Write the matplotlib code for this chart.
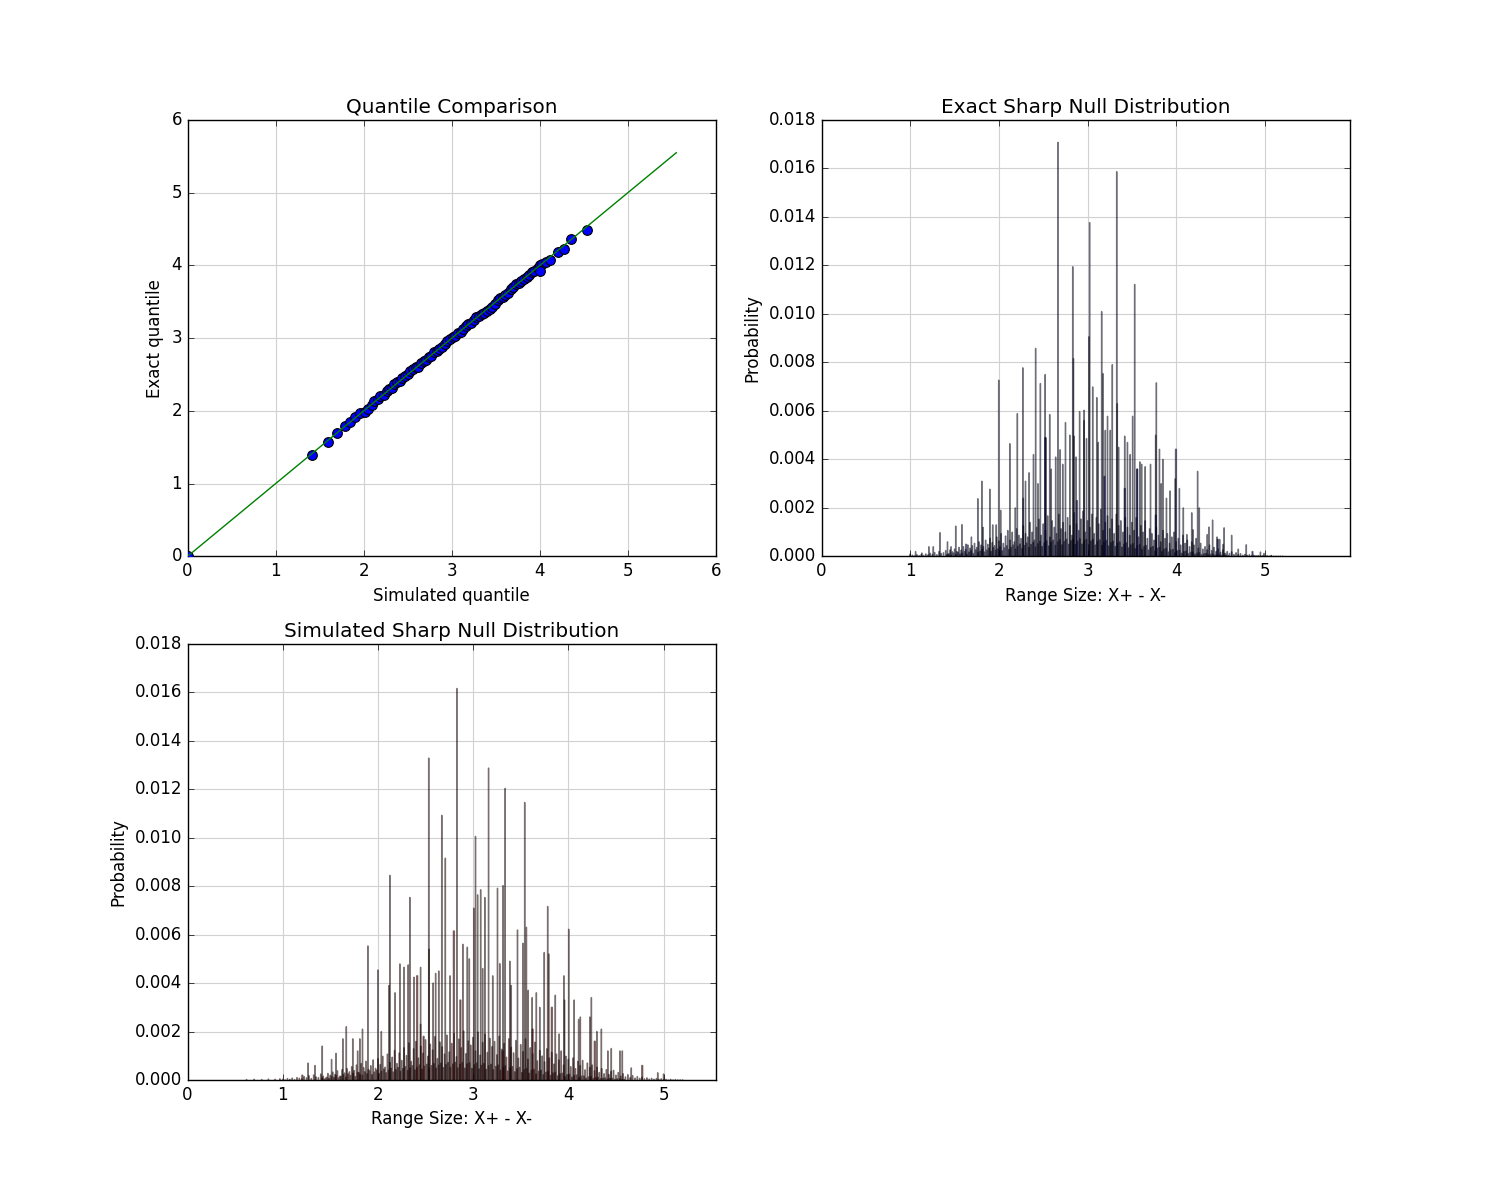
import numpy as np
import matplotlib
matplotlib.use("Agg")
import matplotlib.pyplot as plt

plt.style.use("classic")

# ---------------- data ----------------
# Quantile comparison (simulated vs exact quantiles)
sim_quantiles = [0.00, 1.41, 1.59, 1.70, 1.79, 1.84, 1.90, 1.96, 2.01, 2.05,
                 2.09, 2.12, 2.16, 2.19, 2.23, 2.26, 2.29, 2.32, 2.35, 2.38,
                 2.41, 2.44, 2.47, 2.50, 2.53, 2.56, 2.59, 2.62, 2.65, 2.68,
                 2.71, 2.74, 2.77, 2.80, 2.83, 2.86, 2.89, 2.92, 2.95, 2.98,
                 3.01, 3.04, 3.07, 3.10, 3.13, 3.16, 3.19, 3.22, 3.25, 3.28,
                 3.31, 3.34, 3.37, 3.40, 3.43, 3.46, 3.49, 3.52, 3.55, 3.58,
                 3.61, 3.64, 3.67, 3.70, 3.73, 3.76, 3.79, 3.82, 3.85, 3.88,
                 3.91, 3.94, 3.98, 4.00, 4.03, 4.07, 4.12, 4.21, 4.27, 4.35,
                 4.54, 4.00]
exact_quantiles = [0.00, 1.40, 1.57, 1.70, 1.79, 1.85, 1.91, 1.97, 1.98, 2.03,
                   2.08, 2.13, 2.16, 2.20, 2.22, 2.27, 2.30, 2.31, 2.37, 2.40,
                   2.41, 2.45, 2.48, 2.51, 2.55, 2.57, 2.60, 2.61, 2.66, 2.68,
                   2.70, 2.74, 2.76, 2.81, 2.83, 2.85, 2.88, 2.92, 2.96, 2.99,
                   3.01, 3.03, 3.07, 3.09, 3.12, 3.17, 3.19, 3.21, 3.25, 3.29,
                   3.31, 3.33, 3.35, 3.38, 3.40, 3.43, 3.47, 3.53, 3.55, 3.57,
                   3.59, 3.62, 3.67, 3.70, 3.74, 3.76, 3.78, 3.81, 3.84, 3.87,
                   3.91, 3.93, 3.96, 4.00, 4.02, 4.05, 4.08, 4.18, 4.23, 4.36,
                   4.49, 3.92]
sim_max = 5.55     # largest simulated range size
exact_max = 5.96   # largest exact range size

# Exact sharp-null distribution: prominent spikes
exact_spike_x = [2.666, 3.329, 3.023, 2.833, 3.531, 3.159, 3.015, 2.414, 2.841, 3.776,
                 3.279, 2.270, 3.174, 2.522, 1.998, 2.468, 3.104, 3.058, 3.335, 3.225,
                 2.910, 2.961, 2.208, 2.573, 2.751, 3.508, 3.256, 2.530, 2.848, 2.988,
                 2.123, 3.419, 3.768, 3.811, 3.850, 2.390, 2.340, 4.241, 1.808, 1.762,
                 1.898, 1.335, 1.513, 1.583, 4.369, 4.540, 4.625, 4.790, 4.950, 4.260,
                 4.175, 4.410, 4.036, 3.930, 3.890, 3.590, 3.560, 3.480, 3.350, 2.870,
                 2.720, 2.640, 2.590, 2.440, 2.300, 2.275, 2.185, 2.020, 1.970, 1.930,
                 1.820, 1.690, 1.460, 1.420, 1.210, 1.260, 1.060, 1.000, 1.130, 4.990,
                 5.070, 4.700, 4.530, 4.490, 4.460, 4.350, 4.190, 4.120, 4.080, 3.990,
                 3.710, 3.650, 3.610, 3.830, 2.960, 3.120, 3.200, 2.690, 2.800, 3.450]
exact_spike_h = [0.01708, 0.01587, 0.01377, 0.01195, 0.01122, 0.01010, 0.00906, 0.00858, 0.00816, 0.00716,
                 0.00791, 0.00778, 0.00754, 0.00750, 0.00727, 0.00713, 0.00655, 0.00699, 0.00630, 0.00578,
                 0.00597, 0.00603, 0.00589, 0.00585, 0.00552, 0.00578, 0.00520, 0.00489, 0.00496, 0.00486,
                 0.00465, 0.00496, 0.00500, 0.00442, 0.00400, 0.00420, 0.00345, 0.00351, 0.00310, 0.00238,
                 0.00277, 0.00098, 0.00125, 0.00131, 0.00121, 0.00118, 0.00087, 0.00048, 0.00018, 0.00200,
                 0.00180, 0.00150, 0.00280, 0.00270, 0.00240, 0.00390, 0.00360, 0.00420, 0.00450, 0.00410,
                 0.00380, 0.00410, 0.00360, 0.00300, 0.00310, 0.00240, 0.00200, 0.00190, 0.00130, 0.00130,
                 0.00120, 0.00080, 0.00040, 0.00060, 0.00040, 0.00040, 0.00020, 0.00010, 0.00014, 0.00012,
                 0.00004, 0.00030, 0.00050, 0.00070, 0.00080, 0.00090, 0.00110, 0.00090, 0.00200, 0.00320,
                 0.00380, 0.00370, 0.00380, 0.00300, 0.00560, 0.00470, 0.00520, 0.00440, 0.00500, 0.00470]
# Exact: wider bars whose face colour shows
exact_wide_x = [2.522, 3.190, 3.997, 3.560, 1.630, 4.860, 3.770, 4.470, 2.880, 3.420]
exact_wide_h = [0.00490, 0.00330, 0.00442, 0.00360, 0.00050, 0.00020, 0.00170, 0.00070, 0.00230, 0.00280]
# Exact: low bars, centres 1.000, 1.025, ... 5.200
exact_base_h = [0.00002, 0.00005, 0.00002, 0.00007, 0.00003, 0.00008, 0.00004, 0.00010, 0.00006, 0.00013,
                0.00008, 0.00016, 0.00007, 0.00020, 0.00012, 0.00015, 0.00024, 0.00010, 0.00027, 0.00019,
                0.00030, 0.00020, 0.00037, 0.00026, 0.00040, 0.00028, 0.00047, 0.00034, 0.00044, 0.00054,
                0.00037, 0.00060, 0.00047, 0.00040, 0.00067, 0.00050, 0.00074, 0.00057, 0.00044, 0.00080,
                0.00064, 0.00094, 0.00054, 0.00084, 0.00107, 0.00067, 0.00100, 0.00060, 0.00114, 0.00087,
                0.00074, 0.00127, 0.00094, 0.00080, 0.00140, 0.00100, 0.00067, 0.00120, 0.00154, 0.00087,
                0.00134, 0.00107, 0.00167, 0.00080, 0.00147, 0.00120, 0.00094, 0.00174, 0.00114, 0.00140,
                0.00100, 0.00160, 0.00127, 0.00087, 0.00180, 0.00134, 0.00107, 0.00154, 0.00187, 0.00100,
                0.00147, 0.00120, 0.00174, 0.00094, 0.00160, 0.00134, 0.00194, 0.00107, 0.00140, 0.00167,
                0.00114, 0.00154, 0.00094, 0.00174, 0.00127, 0.00147, 0.00100, 0.00160, 0.00120, 0.00087,
                0.00140, 0.00107, 0.00160, 0.00080, 0.00127, 0.00100, 0.00147, 0.00074, 0.00114, 0.00094,
                0.00067, 0.00120, 0.00087, 0.00060, 0.00107, 0.00074, 0.00094, 0.00054, 0.00080, 0.00100,
                0.00060, 0.00074, 0.00047, 0.00087, 0.00054, 0.00067, 0.00040, 0.00060, 0.00047, 0.00074,
                0.00034, 0.00054, 0.00030, 0.00040, 0.00027, 0.00047, 0.00024, 0.00037, 0.00020, 0.00030,
                0.00017, 0.00027, 0.00013, 0.00020, 0.00012, 0.00019, 0.00008, 0.00015, 0.00007, 0.00011,
                0.00005, 0.00008, 0.00004, 0.00007, 0.00003, 0.00005, 0.00003, 0.00004, 0.00002, 0.00003,
                0.00001, 0.00003, 0.00001, 0.00002, 0.00001, 0.00001, 0.00001, 0.00001, 0.00001]
# Exact: dense floor bars, centres 1.4125, 1.4375, ... 4.5875
exact_low_h = [0.00006, 0.00011, 0.00004, 0.00014, 0.00008, 0.00017, 0.00010, 0.00013, 0.00020, 0.00009,
               0.00018, 0.00024, 0.00012, 0.00027, 0.00016, 0.00022, 0.00030, 0.00018, 0.00026, 0.00033,
               0.00021, 0.00036, 0.00025, 0.00031, 0.00040, 0.00023, 0.00035, 0.00044, 0.00028, 0.00038,
               0.00047, 0.00030, 0.00042, 0.00051, 0.00033, 0.00045, 0.00055, 0.00036, 0.00049, 0.00058,
               0.00039, 0.00052, 0.00062, 0.00041, 0.00056, 0.00064, 0.00043, 0.00058, 0.00067, 0.00046,
               0.00060, 0.00069, 0.00048, 0.00062, 0.00071, 0.00050, 0.00065, 0.00072, 0.00049, 0.00063,
               0.00073, 0.00051, 0.00066, 0.00070, 0.00048, 0.00064, 0.00071, 0.00047, 0.00062, 0.00068,
               0.00045, 0.00060, 0.00066, 0.00043, 0.00057, 0.00063, 0.00041, 0.00054, 0.00060, 0.00038,
               0.00051, 0.00056, 0.00035, 0.00048, 0.00053, 0.00032, 0.00044, 0.00049, 0.00029, 0.00041,
               0.00045, 0.00026, 0.00037, 0.00041, 0.00023, 0.00033, 0.00037, 0.00020, 0.00030, 0.00033,
               0.00018, 0.00027, 0.00029, 0.00015, 0.00023, 0.00025, 0.00013, 0.00020, 0.00022, 0.00011,
               0.00017, 0.00018, 0.00009, 0.00014, 0.00015, 0.00007, 0.00011, 0.00012, 0.00006, 0.00009,
               0.00010, 0.00005, 0.00007, 0.00008, 0.00004, 0.00006, 0.00006, 0.00003]

# Simulated sharp-null distribution: prominent spikes
sim_spike_x = [2.830, 2.534, 3.162, 3.336, 3.542, 2.671, 3.025, 2.708, 2.126, 3.314,
               3.256, 3.079, 3.047, 3.123, 2.336, 3.783, 3.007, 3.466, 3.560, 4.004,
               1.895, 2.892, 2.939, 3.523, 3.747, 3.794, 2.000, 2.231, 2.274, 2.318,
               2.448, 2.379, 2.606, 2.639, 2.758, 3.206, 3.386, 3.578, 3.664, 3.863,
               3.960, 4.061, 4.242, 4.347, 4.126, 4.227, 3.903, 4.415, 4.451, 4.542,
               4.567, 4.661, 4.939, 5.000, 2.036, 1.838, 1.668, 1.632, 1.736, 1.787,
               1.810, 1.415, 1.267, 1.339, 1.513, 2.116, 2.538, 2.448, 3.953, 4.108,
               2.960, 3.100, 3.280, 3.400, 2.180, 2.580, 3.620, 3.700, 4.300, 1.560]
sim_spike_h = [0.01615, 0.01328, 0.01287, 0.01203, 0.01145, 0.01092, 0.01005, 0.00915, 0.00844, 0.00802,
               0.00791, 0.00785, 0.00764, 0.00753, 0.00753, 0.00716, 0.00709, 0.00619, 0.00630, 0.00622,
               0.00553, 0.00560, 0.00548, 0.00564, 0.00526, 0.00520, 0.00454, 0.00479, 0.00465, 0.00475,
               0.00465, 0.00424, 0.00440, 0.00450, 0.00430, 0.00430, 0.00490, 0.00370, 0.00360, 0.00350,
               0.00330, 0.00330, 0.00340, 0.00210, 0.00260, 0.00260, 0.00190, 0.00120, 0.00130, 0.00120,
               0.00120, 0.00050, 0.00030, 0.00025, 0.00200, 0.00210, 0.00220, 0.00170, 0.00170, 0.00120,
               0.00170, 0.00140, 0.00070, 0.00060, 0.00085, 0.00390, 0.00540, 0.00230, 0.00430, 0.00250,
               0.00500, 0.00460, 0.00480, 0.00390, 0.00360, 0.00400, 0.00340, 0.00300, 0.00200, 0.00110]
# Simulated: wider bars whose face colour shows
sim_wide_x = [2.798, 2.412, 2.866, 3.827, 4.278, 4.776, 3.625, 1.206, 2.480, 3.310]
sim_wide_h = [0.00615, 0.00430, 0.00330, 0.00300, 0.00160, 0.00060, 0.00210, 0.00020, 0.00180, 0.00120]
# Simulated: low bars, centres 1.000, 1.025, ... 5.200
sim_base_h = [0.00003, 0.00001, 0.00006, 0.00003, 0.00008, 0.00002, 0.00010, 0.00007, 0.00005, 0.00014,
              0.00009, 0.00018, 0.00006, 0.00021, 0.00013, 0.00010, 0.00025, 0.00016, 0.00008, 0.00027,
              0.00020, 0.00033, 0.00023, 0.00038, 0.00016, 0.00043, 0.00029, 0.00047, 0.00034, 0.00055,
              0.00039, 0.00062, 0.00031, 0.00068, 0.00051, 0.00077, 0.00044, 0.00059, 0.00083, 0.00048,
              0.00088, 0.00064, 0.00098, 0.00053, 0.00107, 0.00073, 0.00094, 0.00122, 0.00068, 0.00112,
              0.00081, 0.00133, 0.00101, 0.00153, 0.00077, 0.00129, 0.00159, 0.00091, 0.00140, 0.00111,
              0.00166, 0.00098, 0.00148, 0.00124, 0.00179, 0.00088, 0.00157, 0.00137, 0.00107, 0.00185,
              0.00116, 0.00151, 0.00192, 0.00096, 0.00169, 0.00133, 0.00202, 0.00109, 0.00161, 0.00144,
              0.00176, 0.00120, 0.00198, 0.00103, 0.00155, 0.00189, 0.00114, 0.00172, 0.00138, 0.00159,
              0.00104, 0.00181, 0.00127, 0.00151, 0.00094, 0.00170, 0.00135, 0.00112, 0.00163, 0.00090,
              0.00146, 0.00117, 0.00170, 0.00086, 0.00133, 0.00109, 0.00156, 0.00079, 0.00122, 0.00099,
              0.00075, 0.00129, 0.00091, 0.00114, 0.00066, 0.00107, 0.00083, 0.00120, 0.00062, 0.00098,
              0.00085, 0.00055, 0.00091, 0.00047, 0.00077, 0.00060, 0.00081, 0.00042, 0.00070, 0.00052,
              0.00062, 0.00038, 0.00053, 0.00031, 0.00047, 0.00026, 0.00043, 0.00023, 0.00036, 0.00040,
              0.00020, 0.00031, 0.00016, 0.00026, 0.00013, 0.00022, 0.00010, 0.00018, 0.00008, 0.00014,
              0.00007, 0.00012, 0.00005, 0.00009, 0.00004, 0.00007, 0.00003, 0.00006, 0.00003, 0.00005,
              0.00002, 0.00003, 0.00001, 0.00003, 0.00001, 0.00002, 0.00001, 0.00001, 0.00001]
# Simulated: dense floor bars, centres 1.4125, 1.4375, ... 4.5875
sim_low_h = [0.00008, 0.00004, 0.00012, 0.00007, 0.00015, 0.00011, 0.00019, 0.00009, 0.00016, 0.00022,
             0.00012, 0.00025, 0.00019, 0.00028, 0.00014, 0.00031, 0.00023, 0.00020, 0.00034, 0.00026,
             0.00038, 0.00022, 0.00033, 0.00041, 0.00027, 0.00036, 0.00045, 0.00030, 0.00040, 0.00048,
             0.00033, 0.00043, 0.00052, 0.00036, 0.00047, 0.00055, 0.00039, 0.00050, 0.00059, 0.00042,
             0.00053, 0.00062, 0.00044, 0.00057, 0.00065, 0.00047, 0.00059, 0.00068, 0.00049, 0.00061,
             0.00070, 0.00051, 0.00064, 0.00072, 0.00052, 0.00066, 0.00073, 0.00050, 0.00065, 0.00072,
             0.00049, 0.00067, 0.00071, 0.00048, 0.00063, 0.00070, 0.00046, 0.00061, 0.00068, 0.00044,
             0.00059, 0.00065, 0.00042, 0.00056, 0.00062, 0.00040, 0.00053, 0.00059, 0.00037, 0.00050,
             0.00055, 0.00034, 0.00047, 0.00052, 0.00031, 0.00043, 0.00048, 0.00028, 0.00040, 0.00044,
             0.00025, 0.00036, 0.00040, 0.00022, 0.00032, 0.00036, 0.00019, 0.00029, 0.00032, 0.00017,
             0.00026, 0.00028, 0.00014, 0.00022, 0.00024, 0.00012, 0.00019, 0.00021, 0.00010, 0.00016,
             0.00017, 0.00008, 0.00013, 0.00014, 0.00007, 0.00010, 0.00011, 0.00005, 0.00008, 0.00009,
             0.00004, 0.00007, 0.00007, 0.00003, 0.00005, 0.00005, 0.00002, 0.00003]
sim_tail_x = [0.62, 0.70, 0.78, 0.85, 0.92, 0.97]
sim_tail_h = [0.00002, 0.00003, 0.00002, 0.00004, 0.00003, 0.00005]

base_x = np.round(1.0 + 0.025 * np.arange(len(exact_base_h)), 4)
low_x = np.round(1.4125 + 0.025 * np.arange(len(exact_low_h)), 4)

# ---------------- figure ----------------
fig = plt.figure(figsize=(15, 12), dpi=100, facecolor="white")
ax1 = fig.add_subplot(2, 2, 1)
ax2 = fig.add_subplot(2, 2, 2)
ax3 = fig.add_subplot(2, 2, 3)

grid_kw = dict(color="0.82", linestyle="-", linewidth=0.8)

# Quantile comparison
ax1.plot(sim_quantiles, exact_quantiles, "bo", markersize=7,
         markeredgecolor="k", markeredgewidth=0.8, zorder=3)
ax1.plot([0, sim_max], [0, sim_max], color=(0, 0.5, 0), linewidth=1, zorder=4)
ax1.set_xlim(0, 6)
ax1.set_ylim(0, 6)
ax1.set_title("Quantile Comparison", fontsize=14.4)
ax1.set_xlabel("Simulated quantile", fontsize=12)
ax1.set_ylabel("Exact quantile", fontsize=12)
ax1.grid(True, **grid_kw)
ax1.set_axisbelow(True)


def draw_hist(ax, face, base_h, low_h, spike_x, spike_h, wide_x, wide_h, xmax,
              title, tail_x=None, tail_h=None):
    bar_kw = dict(color=face, edgecolor="k", alpha=0.5, align="center",
                  linewidth=1)
    groups = [ax.bar(low_x, low_h, width=0.004, **bar_kw),
              ax.bar(base_x, base_h, width=0.004, **bar_kw)]
    if tail_x is not None:
        groups.append(ax.bar(tail_x, tail_h, width=0.004, **bar_kw))
    groups.append(ax.bar(spike_x, spike_h, width=0.003, **bar_kw))
    groups.append(ax.bar(wide_x, wide_h, width=0.010, **bar_kw))
    for g in groups:
        for p in g.patches:
            p.set_snap(False)
    ax.set_xlim(0, xmax)
    ax.set_ylim(0, 0.018)
    ax.set_yticks(np.arange(0, 0.0181, 0.002))
    ax.yaxis.set_major_formatter(matplotlib.ticker.FormatStrFormatter("%.3f"))
    ax.set_xticks([0, 1, 2, 3, 4, 5])
    ax.set_title(title, fontsize=14.4)
    ax.set_xlabel("Range Size: X+ - X-", fontsize=12)
    ax.set_ylabel("Probability", fontsize=12)
    ax.grid(True, **grid_kw)
    ax.set_axisbelow(True)


draw_hist(ax2, "b", exact_base_h, exact_low_h, exact_spike_x, exact_spike_h,
          exact_wide_x, exact_wide_h, exact_max, "Exact Sharp Null Distribution")
draw_hist(ax3, "r", sim_base_h, sim_low_h, sim_spike_x, sim_spike_h,
          sim_wide_x, sim_wide_h, sim_max, "Simulated Sharp Null Distribution",
          sim_tail_x, sim_tail_h)

fig.savefig("out.png", dpi=100, facecolor="white")
